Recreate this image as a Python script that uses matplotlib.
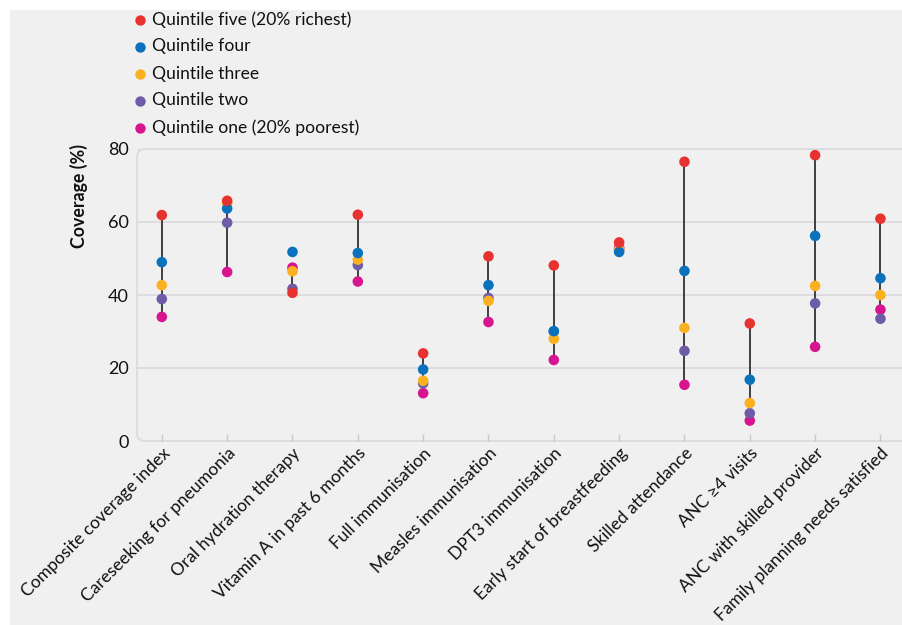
import matplotlib
matplotlib.use("Agg")
import matplotlib.pyplot as plt
from matplotlib.patches import FancyBboxPatch, Rectangle

# data (coverage %, by wealth quintile)
indicators = ["Composite coverage index", "Careseeking for pneumonia",
              "Oral hydration therapy", "Vitamin A in past 6 months",
              "Full immunisation", "Measles immunisation", "DPT3 immunisation",
              "Early start of breastfeeding", "Skilled attendance",
              "ANC \u22654 visits", "ANC with skilled provider",
              "Family planning needs satisfied"]
q5 = [61.9, 65.8, 40.6, 62.0, 24.0, 50.6, 48.1, 54.4, 76.5, 32.2, 78.3, 60.9]
q4 = [49.0, 63.7, 51.8, 51.5, 19.6, 42.7, 30.1, 51.8, 46.6, 16.8, 56.2, 44.6]
q3 = [42.7, 65.2, 46.5, 49.7, 16.5, 38.4, 28.0, 52.5, 31.0, 10.4, 42.5, 40.0]
q2 = [38.9, 59.8, 41.7, 48.2, 15.8, 39.2, 30.0, 52.3, 24.7, 7.6, 37.7, 33.5]
q1 = [34.0, 46.3, 47.5, 43.7, 13.1, 32.6, 22.2, 53.0, 15.4, 5.6, 25.8, 36.0]
yticks = [0, 20, 40, 60, 80]

BG = "#f0f0f0"
GRID = "#d9d9de"
series = [  # drawn bottom to top
    ("Quintile one (20% poorest)", q1, "#d6158e"),
    ("Quintile two", q2, "#6e5ca8"),
    ("Quintile three", q3, "#fbb020"),
    ("Quintile four", q4, "#0a72bd"),
    ("Quintile five (20% richest)", q5, "#e8322f"),
]

plt.rcParams["font.family"] = ["Lato", "DejaVu Sans"]
fig = plt.figure(figsize=(9.02, 6.25), dpi=100, facecolor="white")
fig.patches.append(Rectangle((10/902, 0), 1, 615/625, transform=fig.transFigure,
                             facecolor=BG, edgecolor="none", zorder=-10))
ax = fig.add_axes([137/902, 1 - 441/625, 765/902, 292/625])
ax.set_facecolor("none")
x = list(range(len(indicators)))
ax.set_xlim(-0.38, 11.33)
ax.set_ylim(0, 80)

for s in ax.spines.values():
    s.set_visible(False)
frame = FancyBboxPatch((0, 0), 1.05, 1, boxstyle="round,pad=0,rounding_size=0.0105",
                       mutation_aspect=2.62, transform=ax.transAxes,
                       facecolor="none", edgecolor=GRID, lw=1.2, clip_on=False, zorder=0)
ax.add_patch(frame)
for v in yticks[1:]:
    ax.axhline(v, color=GRID, lw=1.2, zorder=0)

# range line from poorest to richest
ax.vlines(x, q1, q5, color="#222222", lw=1.2, zorder=2)
for name, vals, col in series:
    ax.scatter(x, vals, s=58, color=col, edgecolors="none", zorder=3)

ax.set_yticks(yticks)
ax.set_xticks(x)
ax.set_xticklabels(indicators, rotation=45, ha="right", va="top",
                   rotation_mode="anchor", fontsize=12.5, color="#111111")
ax.tick_params(axis="y", length=0, pad=6, labelsize=13, labelcolor="#111111")
ax.tick_params(axis="x", direction="in", length=5, width=1, color="#c8c8cc", pad=3)
ax.text(-0.076, 0.84, "Coverage (%)", transform=ax.transAxes, rotation=90,
        ha="center", va="center", fontsize=12.8, fontweight="bold", color="#111111")

# legend, top to bottom
for i, (name, vals, col) in enumerate(reversed(series)):
    yy = 1 - (19.5 + 27 * i) / 625
    fig.lines.append(plt.Line2D([140/902], [yy], marker="o", markersize=7.5,
                                color=col, markeredgewidth=0, transform=fig.transFigure))
    fig.text(152/902, yy, name, ha="left", va="center", fontsize=12.6, color="#111111")

fig.savefig("out.png", dpi=100, facecolor="white")
